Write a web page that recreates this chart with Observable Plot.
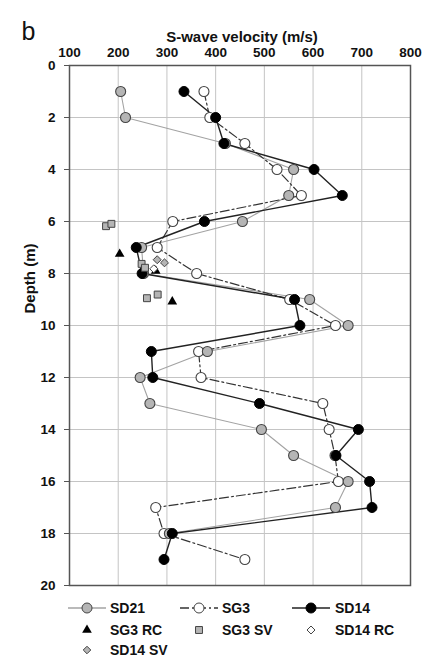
<!DOCTYPE html>
<html><head><meta charset="utf-8">
<script src="https://cdn.jsdelivr.net/npm/d3@7"></script>
<script src="https://cdn.jsdelivr.net/npm/@observablehq/plot@0.6"></script>
<style>
body{margin:0;background:#fff;font-family:"Liberation Sans",Arial,sans-serif;}
#chart svg,#legend svg{display:block}
</style></head><body><div id="chart"></div><div id="legend"></div>
<script>
// ---- data ----
const xTicks = [100,200,300,400,500,600,700,800];
const yTicks = [0,2,4,6,8,10,12,14,16,18,20];

const sd21Depth = [1,2,3,4,5,6,7,8,9,10,11,12,13,14,15,16,17,18];
const sd21Vs    = [205,215,420,560,550,455,248,252,593,672,383,245,265,494,560,672,646,305];

const sg3Depth = [1,2,3,4,5,6,7,8,9,10,11,12,13,14,15,16,17,18,19];
const sg3Vs    = [376,388,460,526,576,312,280,361,552,646,365,370,620,633,645,652,277,294,460];

const sd14Depth = [1,2,3,4,5,6,7,8,9,10,11,12,13,14,15,16,17,18,19];
const sd14Vs    = [335,400,417,602,660,377,237,249,562,573,268,271,490,693,647,716,721,311,294];

const sg3RcDepth = [7.25,7.9,9.08];
const sg3RcVs    = [203,277,311];

const sg3SvDepth = [6.18,6.09,7.63,7.78,8.95,8.81];
const sg3SvVs    = [175,186,248,255,259,281];

const sd14RcDepth = [7.82];
const sd14RcVs    = [273];

const sd14SvDepth = [7.47,7.59];
const sd14SvVs    = [280,295];

const rows = (depth, vs) => depth.map((d, i) => ({depth: d, vs: vs[i]}));
const sd21 = rows(sd21Depth, sd21Vs);
const sg3 = rows(sg3Depth, sg3Vs);
const sd14 = rows(sd14Depth, sd14Vs);
const sg3Rc = rows(sg3RcDepth, sg3RcVs);
const sg3Sv = rows(sg3SvDepth, sg3SvVs);
const sd14Rc = rows(sd14RcDepth, sd14RcVs);
const sd14Sv = rows(sd14SvDepth, sd14SvVs);

const GRAYFILL = "#b5b5b5", EDGE = "#444";
const DASH = "9,3,2,3";
const FONT = "Liberation Sans, Arial, sans-serif";

const plot = Plot.plot({
  width: 434, height: 595,
  marginTop: 65, marginBottom: 10, marginLeft: 69, marginRight: 24,
  style: {fontFamily: FONT, fontSize: "13.5px", fontWeight: "bold", color: "#111", background: "#fff"},
  x: {domain: [100, 800]},
  y: {domain: [0, 20], reverse: true},
  marks: [
    Plot.gridX(xTicks, {stroke: "#c4c4c4", strokeOpacity: 1, strokeWidth: 1}),
    Plot.gridY(yTicks, {stroke: "#c4c4c4", strokeOpacity: 1, strokeWidth: 1}),
    Plot.axisX(xTicks, {anchor: "top", tickSize: 0, tickPadding: 9, label: null, fontSize: 13.5}),
    Plot.axisY(yTicks, {anchor: "left", tickSize: 5, tickPadding: 9, label: null, fontSize: 13.5, stroke: "#555"}),
    Plot.frame({stroke: "#555", strokeWidth: 1.5}),
    Plot.line(sd21, {x: "vs", y: "depth", stroke: "#a3a3a3", strokeWidth: 1.1}),
    Plot.line(sg3, {x: "vs", y: "depth", stroke: "#333", strokeWidth: 1.2, strokeDasharray: DASH}),
    Plot.line(sd14, {x: "vs", y: "depth", stroke: "#222", strokeWidth: 1.4}),
    Plot.dot(sg3, {x: "vs", y: "depth", r: 5, fill: "#fff", stroke: EDGE, strokeWidth: 1.1}),
    Plot.dot(sd21, {x: "vs", y: "depth", r: 5, fill: GRAYFILL, stroke: EDGE, strokeWidth: 1.1}),
    Plot.dot(sd14, {x: "vs", y: "depth", r: 5, fill: "#000", stroke: "#000", strokeWidth: 1}),
    Plot.dot(sg3Rc, {x: "vs", y: "depth", symbol: "triangle", r: 3.6, fill: "#000", stroke: "none"}),
    Plot.dot(sg3Sv, {x: "vs", y: "depth", symbol: "square", r: 3.9, fill: GRAYFILL, stroke: EDGE, strokeWidth: 1}),
    Plot.dot(sd14Rc, {x: "vs", y: "depth", symbol: "diamond2", r: 3.6, fill: "#fff", stroke: EDGE, strokeWidth: 1}),
    Plot.dot(sd14Sv, {x: "vs", y: "depth", symbol: "diamond2", r: 3.6, fill: GRAYFILL, stroke: EDGE, strokeWidth: 1}),
    Plot.text(["S-wave velocity (m/s)"], {frameAnchor: "top", dy: -34, dx: 2, fontSize: 15, fontWeight: "bold", fill: "#111"}),
    Plot.text(["Depth (m)"], {frameAnchor: "left", dx: -39, dy: -12, rotate: -90, fontSize: 15, fontWeight: "bold", fill: "#111"}),
    Plot.text(["b"], {frameAnchor: "top-left", textAnchor: "start", dx: -48, dy: -43, fontSize: 25, fontWeight: "normal", fill: "#111"})
  ]
});
document.getElementById("chart").appendChild(plot);

// ---- legend ----
const legendItems = [
  {label: "SD21", col: 0, row: 0, line: "#a3a3a3", dash: null, sym: d3.symbolCircle, r: 5, fill: GRAYFILL, stroke: EDGE},
  {label: "SG3", col: 1, row: 0, line: "#333", dash: DASH, sym: d3.symbolCircle, r: 5, fill: "#fff", stroke: EDGE},
  {label: "SD14", col: 2, row: 0, line: "#222", dash: null, sym: d3.symbolCircle, r: 5, fill: "#000", stroke: "#000"},
  {label: "SG3 RC", col: 0, row: 1, line: null, sym: d3.symbolTriangle, r: 3.6, fill: "#000", stroke: "none"},
  {label: "SG3 SV", col: 1, row: 1, line: null, sym: d3.symbolSquare, r: 3.9, fill: GRAYFILL, stroke: EDGE},
  {label: "SD14 RC", col: 2, row: 1, line: null, sym: d3.symbolDiamond2, r: 3.6, fill: "#fff", stroke: EDGE},
  {label: "SD14 SV", col: 0, row: 2, line: null, sym: d3.symbolDiamond2, r: 3.4, fill: GRAYFILL, stroke: EDGE}
];
const colX = [87, 199, 311], textX = [110, 222, 335], rowY = [13, 35, 55];
const lsvg = d3.select("#legend").append("svg").attr("width", 434).attr("height", 72)
  .style("font-family", FONT).style("font-weight", "bold").style("font-size", "14px");
for (const it of legendItems) {
  const cx = colX[it.col], cy = rowY[it.row];
  if (it.line) {
    lsvg.append("line").attr("x1", cx - 19).attr("x2", cx + 19).attr("y1", cy).attr("y2", cy)
      .attr("stroke", it.line).attr("stroke-width", 1.3).attr("stroke-dasharray", it.dash);
  }
  lsvg.append("path").attr("transform", `translate(${cx},${cy})`)
    .attr("d", d3.symbol(it.sym, Math.PI * it.r * it.r)())
    .attr("fill", it.fill).attr("stroke", it.stroke).attr("stroke-width", 1);
  lsvg.append("text").attr("x", textX[it.col]).attr("y", cy).attr("dy", "0.35em").attr("fill", "#111").text(it.label);
}
</script></body></html>
